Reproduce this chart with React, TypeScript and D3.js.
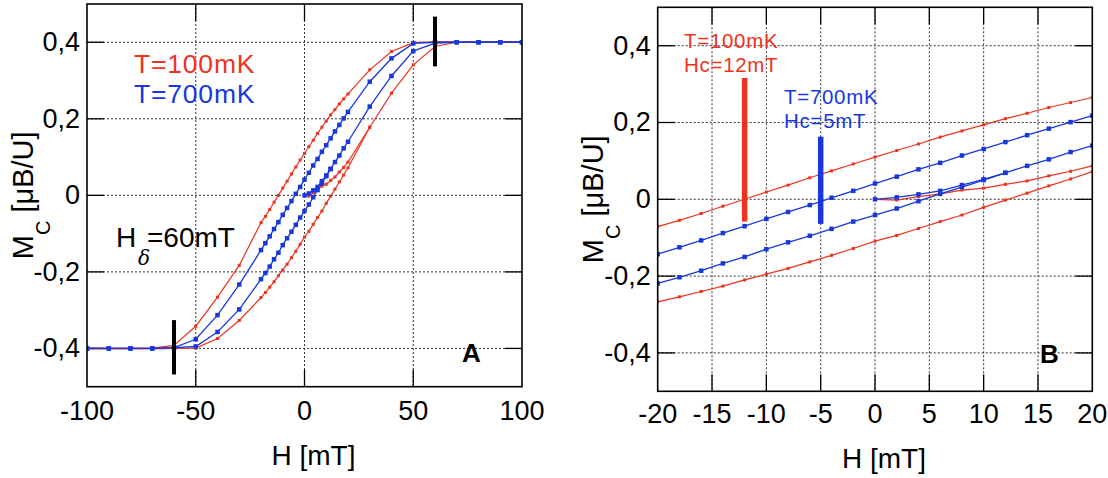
import React from "react";
import * as d3 from "d3";

// ---- data ----
const fieldH = [-100, -90, -80, -70, -60, -50, -40, -30, -20, -18, -16, -14, -12, -10, -8, -6, -4, -2, 0, 2, 4, 6, 8, 10, 12, 14, 16, 18, 20, 30, 40, 50, 60, 70, 80, 90, 100];

const red100mK_desc = [-0.400, -0.400, -0.400, -0.399, -0.392, -0.342, -0.266, -0.183, -0.071, -0.055, -0.037, -0.018, 0.000, 0.019, 0.037, 0.056, 0.074, 0.092, 0.110, 0.127, 0.144, 0.162, 0.178, 0.194, 0.210, 0.224, 0.239, 0.252, 0.265, 0.328, 0.376, 0.399, 0.401, 0.401, 0.401, 0.401, 0.401];
const red100mK_asc = [-0.401, -0.401, -0.401, -0.401, -0.400, -0.399, -0.374, -0.327, -0.267, -0.254, -0.240, -0.226, -0.210, -0.195, -0.180, -0.163, -0.146, -0.128, -0.109, -0.094, -0.076, -0.058, -0.041, -0.021, -0.002, 0.016, 0.035, 0.053, 0.072, 0.178, 0.267, 0.341, 0.389, 0.400, 0.400, 0.400, 0.400];
const red100mK_virginH = [0, 2, 4, 6, 8, 10, 12, 14, 16, 18, 20, 30];
const red100mK_virginM = [0, -0.002, 0.007, 0.014, 0.024, 0.029, 0.039, 0.048, 0.061, 0.073, 0.087, 0.178];

const blue700mK_desc = [-0.400, -0.400, -0.400, -0.400, -0.398, -0.376, -0.313, -0.233, -0.143, -0.125, -0.107, -0.088, -0.070, -0.051, -0.033, -0.015, 0.004, 0.022, 0.041, 0.059, 0.078, 0.095, 0.114, 0.131, 0.149, 0.167, 0.184, 0.201, 0.218, 0.297, 0.358, 0.397, 0.400, 0.400, 0.400, 0.400, 0.400];
const blue700mK_asc = [-0.400, -0.400, -0.400, -0.400, -0.398, -0.395, -0.357, -0.298, -0.219, -0.203, -0.186, -0.167, -0.150, -0.130, -0.112, -0.095, -0.077, -0.058, -0.041, -0.024, -0.005, 0.014, 0.032, 0.050, 0.069, 0.087, 0.104, 0.123, 0.140, 0.232, 0.312, 0.377, 0.398, 0.400, 0.400, 0.400, 0.400];
const blue700mK_virginH = [0, 2, 4, 6, 8, 10, 12];
const blue700mK_virginM = [0, 0.005, 0.013, 0.022, 0.037, 0.052, 0.069];

const ticksA_x = [-100, -50, 0, 50, 100];
const ticksB_x = [-20, -15, -10, -5, 0, 5, 10, 15, 20];
const ticks_y = [-0.4, -0.2, 0, 0.2, 0.4];

// H_delta markers (panel A) and coercive field markers (panel B)
const hDeltaBars = [
  { h: 60, m0: 0.337, m1: 0.467 },
  { h: -60, m0: -0.468, m1: -0.326 },
];
const coerciveBars = [
  { h: -12, m0: -0.058, m1: 0.316, series: "red" },
  { h: -5, m0: -0.064, m1: 0.163, series: "blue" },
];

const RED = "#ec3320";
const BLUE = "#1838dc";
const FONT = "'Liberation Sans', Arial, Helvetica, sans-serif";

const fmtY = (v: number) => (v === 0 ? "0" : d3.format(".1f")(v).replace(".", ",").replace("−", "-"));

type Pt = [number, number];
const zip = (hs: number[], ms: number[]): Pt[] => hs.map((h, i) => [h, ms[i]] as Pt);

function Panel(props: {
  left: number; right: number; top: number; bottom: number;
  xDomain: [number, number]; xTicks: number[];
  tickLabelDy: number; titleY: number; titleDx: number;
  yLabelX: number; clipId: string;
  children?: (x: d3.ScaleLinear<number, number>, y: d3.ScaleLinear<number, number>) => React.ReactNode;
}) {
  const { left, right, top, bottom, xDomain, xTicks, clipId } = props;
  const x = d3.scaleLinear().domain(xDomain).range([left, right]);
  const y = d3.scaleLinear().domain([-0.5, 0.5]).range([bottom, top]);
  const tl = 17;
  const line = d3.line<Pt>().x((d) => x(d[0])).y((d) => y(d[1]));

  const series = [
    { pts: zip(fieldH, red100mK_asc), color: RED, ms: 3, lw: 1.2 },
    { pts: zip(fieldH, red100mK_desc), color: RED, ms: 3, lw: 1.2 },
    { pts: zip(red100mK_virginH, red100mK_virginM), color: RED, ms: 3, lw: 1.2 },
    { pts: zip(fieldH, blue700mK_asc), color: BLUE, ms: 4.5, lw: 1.3 },
    { pts: zip(fieldH, blue700mK_desc), color: BLUE, ms: 4.5, lw: 1.3 },
    { pts: zip(blue700mK_virginH, blue700mK_virginM), color: BLUE, ms: 4.5, lw: 1.3 },
  ];

  return (
    <g>
      <defs>
        <clipPath id={clipId}>
          <rect x={left} y={top} width={right - left} height={bottom - top} />
        </clipPath>
      </defs>
      {/* grid */}
      {xTicks.slice(1, -1).map((t) => (
        <line key={"gx" + t} x1={x(t)} x2={x(t)} y1={top} y2={bottom} stroke="#333" strokeWidth={1} strokeDasharray="2,2" />
      ))}
      {ticks_y.map((t) => (
        <line key={"gy" + t} x1={left} x2={right} y1={y(t)} y2={y(t)} stroke="#333" strokeWidth={1} strokeDasharray="2,2" />
      ))}
      {/* inward ticks */}
      {xTicks.slice(1, -1).map((t) => (
        <g key={"tx" + t} stroke="#000" strokeWidth={1.3}>
          <line x1={x(t)} x2={x(t)} y1={bottom} y2={bottom - tl} />
          <line x1={x(t)} x2={x(t)} y1={top} y2={top + tl} />
        </g>
      ))}
      {ticks_y.map((t) => (
        <g key={"ty" + t} stroke="#000" strokeWidth={1.3}>
          <line x1={left} x2={left + tl} y1={y(t)} y2={y(t)} />
          <line x1={right} x2={right - tl} y1={y(t)} y2={y(t)} />
        </g>
      ))}
      {/* data */}
      <g clipPath={`url(#${clipId})`}>
        {series.map((s, i) => (
          <g key={"s" + i}>
            <path d={line(s.pts) || ""} fill="none" stroke={s.color} strokeWidth={s.lw} />
            {s.pts.map((p, j) => (
              <rect key={j} x={x(p[0]) - s.ms / 2} y={y(p[1]) - s.ms / 2} width={s.ms} height={s.ms} fill={s.color} />
            ))}
          </g>
        ))}
      </g>
      {props.children ? props.children(x, y) : null}
      {/* frame */}
      <rect x={left} y={top} width={right - left} height={bottom - top} fill="none" stroke="#000" strokeWidth={1.6} />
      {/* tick labels */}
      {xTicks.map((t) => (
        <text key={"lx" + t} x={x(t)} y={bottom + props.tickLabelDy} textAnchor="middle" fontSize={27} fontFamily={FONT} fill="#000">
          {String(t)}
        </text>
      ))}
      {ticks_y.map((t) => (
        <text key={"ly" + t} x={left - 7} y={y(t)} dy="0.33em" textAnchor="end" fontSize={27} fontFamily={FONT} fill="#000">
          {fmtY(t)}
        </text>
      ))}
      {/* axis titles */}
      <text x={(left + right) / 2 + props.titleDx} y={props.titleY} textAnchor="middle" fontSize={28} fontFamily={FONT} fill="#000">
        H [mT]
      </text>
      <text transform={`translate(${props.yLabelX},${(top + bottom) / 2}) rotate(-90)`} textAnchor="middle" fontSize={29} fontFamily={FONT} fill="#000">
        M<tspan fontSize={20} dy={17}>C</tspan>
        <tspan dy={-17}> [μB/U]</tspan>
      </text>
    </g>
  );
}

export default function App() {
  return (
    <svg width={1108} height={478} style={{ position: "absolute", left: 0, top: 0, background: "#fff" }}>
      <rect width={1108} height={478} fill="#fff" />
      <Panel left={87} right={522} top={4} bottom={386.7} xDomain={[-100, 100]} xTicks={ticksA_x}
        tickLabelDy={33} titleY={465} titleDx={9} yLabelX={33} clipId="clipA">
        {(x, y) => (
          <g>
            {hDeltaBars.map((b, i) => (
              <line key={i} x1={x(b.h)} x2={x(b.h)} y1={y(b.m0)} y2={y(b.m1)} stroke="#000" strokeWidth={4} />
            ))}
            <text x={134} y={73} fontSize={26.5} letterSpacing={0.8} fontFamily={FONT} fill={RED}>T=100mK</text>
            <text x={134} y={103} fontSize={26.5} letterSpacing={0.8} fontFamily={FONT} fill={BLUE}>T=700mK</text>
            <text x={116} y={247} fontSize={28} fontFamily={FONT} fill="#000">H</text>
            <text x={138} y={265} fontSize={20} fontFamily="'DejaVu Serif', 'Liberation Serif', serif" fontStyle="italic" fill="#000">δ</text>
            <text x={147} y={247} fontSize={28} fontFamily={FONT} fill="#000">=60mT</text>
            <text x={462} y={362} fontSize={26} fontWeight="bold" fontFamily={FONT} fill="#000">A</text>
          </g>
        )}
      </Panel>
      <Panel left={657.7} right={1092.3} top={7.3} bottom={391.3} xDomain={[-20, 20]} xTicks={ticksB_x}
        tickLabelDy={32} titleY={468} titleDx={9} yLabelX={603} clipId="clipB">
        {(x, y) => (
          <g>
            {coerciveBars.map((b, i) => (
              <line key={i} x1={x(b.h)} x2={x(b.h)} y1={y(b.m0)} y2={y(b.m1)} stroke={b.series === "red" ? RED : BLUE} strokeWidth={5.5} />
            ))}
            <text x={684} y={48} fontSize={20.5} letterSpacing={0.7} fontFamily={FONT} fill={RED}>T=100mK</text>
            <text x={684} y={72} fontSize={20.5} letterSpacing={0.7} fontFamily={FONT} fill={RED}>Hc=12mT</text>
            <text x={784} y={104} fontSize={20.5} letterSpacing={0.7} fontFamily={FONT} fill={BLUE}>T=700mK</text>
            <text x={784} y={128} fontSize={20.5} letterSpacing={0.7} fontFamily={FONT} fill={BLUE}>Hc=5mT</text>
            <text x={1040} y={363} fontSize={26} fontWeight="bold" fontFamily={FONT} fill="#000">B</text>
          </g>
        )}
      </Panel>
    </svg>
  );
}
